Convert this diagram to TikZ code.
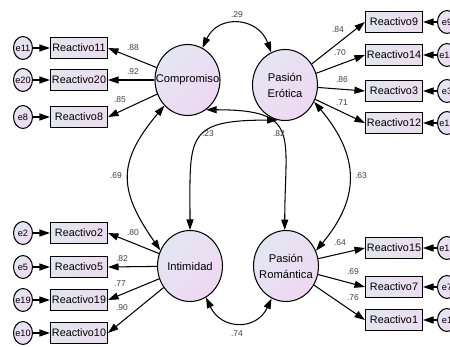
\documentclass[tikz,border=0pt]{standalone}
\usepackage{fontspec}
\setmainfont{Liberation Sans}
\usetikzlibrary{arrows.meta,shapes.geometric}
\definecolor{latA}{HTML}{E4E6F2}
\definecolor{latB}{HTML}{EED8F2}
\definecolor{boxA}{HTML}{E2E6EE}
\definecolor{boxB}{HTML}{ECDCF0}
\definecolor{coefgray}{HTML}{404040}
\begin{document}
\begin{tikzpicture}[x=1pt, y=1pt, line width=1.05pt, >={Triangle[length=10.5pt,width=7pt]},
    latent/.style={ellipse, draw, minimum width=65pt, minimum height=71pt, inner xsep=-9pt, inner ysep=0pt,
        align=center, font=\fontsize{11.2}{16}\selectfont, top color=latA, bottom color=latB, shading angle=45},
    item/.style={rectangle, draw, minimum width=57pt, minimum height=21pt, inner sep=1pt,
        font=\fontsize{10.8}{12}\selectfont, left color=boxA, right color=boxB},
    err/.style={ellipse, draw, minimum width=19pt, minimum height=23pt, inner xsep=-2pt, inner ysep=0pt,
        font=\fontsize{9.2}{10}\selectfont, top color=latA, bottom color=latB, shading angle=45},
    coef/.style={font=\fontsize{8.5}{10}\selectfont, text=coefgray, inner sep=0pt}]
    \clip (0,0) rectangle (450,-347);

    % Latent variables
    \node[latent] (comp) at (187.5,-80) {Compromiso};
    \node[latent] (ero) at (285,-85) {Pasión\\Erótica};
    \node[latent] (inti) at (190,-266) {Intimidad};
    \node[latent] (rom) at (286,-266) {Pasión\\Romántica};

    % Compromiso indicators
    \foreach \n/\y/\lx/\ly/\v in {11/48/133/48/.88, 20/80/133/72/.92, 8/117/120/100/.85} {
        \node[item] (r\n) at (79,-\y) {Reactivo\n};
        \node[err] (e\n) at (23,-\y) {e\n};
        \draw[->] (e\n) -- (r\n);
        \draw[->] (comp) -- (r\n.east);
        \node[coef] (c\n) at (\lx,-\ly) {\v};
    }

    % Intimidad indicators
    \foreach \n/\y/\lx/\ly/\v in {2/233/133/233/.80, 5/267/122/259/.82, 19/300/120/284/.77, 10/333/122/308/.90} {
        \node[item] (r\n) at (79,-\y) {Reactivo\n};
        \node[err] (e\n) at (23,-\y) {e\n};
        \draw[->] (e\n) -- (r\n);
        \draw[->] (inti) -- (r\n.east);
        \node[coef] (c\n) at (\lx,-\ly) {\v};
    }

    % Pasion erotica indicators
    \foreach \n/\y/\lx/\ly/\v in {9/22/338/30/.84, 14/55/340/53/.70, 3/91/342/80/.86, 12/123/342/103/.71} {
        \node[item] (r\n) at (394,-\y) {Reactivo\n};
        \node[err] (e\n) at (447,-\y) {e\n};
        \draw[->] (e\n) -- (r\n);
        \draw[->] (ero) -- (r\n.west);
        \node[coef] (c\n) at (\lx,-\ly) {\v};
    }

    % Pasion romantica indicators
    \foreach \n/\y/\lx/\ly/\v in {15/248/340/243/.64, 7/287/353/272/.69, 1/320/353/298/.76} {
        \node[item] (r\n) at (394,-\y) {Reactivo\n};
        \node[err] (e\n) at (447,-\y) {e\n};
        \draw[->] (e\n) -- (r\n);
        \draw[->] (rom) -- (r\n.west);
        \node[coef] (c\n) at (\lx,-\ly) {\v};
    }

    % Covariances
    \draw[<->] (comp.65) to[out=65, in=110, looseness=1.4] (ero.113);
    \node[coef] (k29) at (237,-15) {.29};
    \draw[<->] (inti.-63) to[out=-65, in=-115, looseness=1.4] (rom.-114);
    \node[coef] (k74) at (237,-334) {.74};
    \draw[<->] (comp.-132) to[out=-130, in=125, looseness=1.3] (inti.152);
    \node[coef] (k69) at (116,-176) {.69};
    \draw[<->] (ero.-30) to[out=-50, in=50, looseness=1.2] (rom.27);
    \node[coef] (k63) at (361,-176) {.63};
    \draw[<->] (comp.-58) to[out=0, in=90, looseness=1.7] (rom.92);
    \node[coef] (k82) at (279,-134) {.82};
    \draw[<->] (ero.-102) to[out=180, in=90, looseness=1.7] (inti.90);
    \node[coef] (k23) at (208,-134) {.23};
\end{tikzpicture}
\end{document}
